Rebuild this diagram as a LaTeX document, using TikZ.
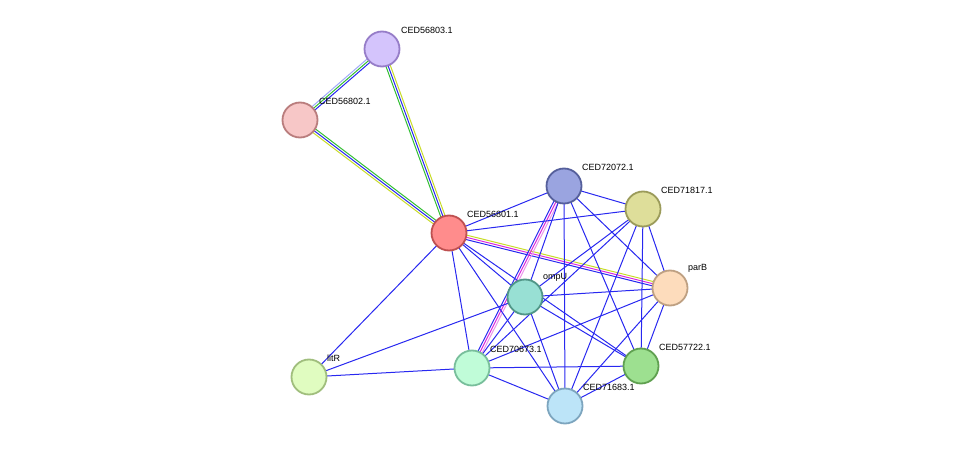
\documentclass[tikz,border=0pt]{standalone}
\usepackage{fontspec}
\setmainfont{Liberation Sans}
\usetikzlibrary{calc}
\begin{document}
\begin{tikzpicture}[x=1pt,y=-1pt,
  prot/.style={circle,minimum size=35pt,inner sep=0pt,line width=1.8pt},
  lab/.style={anchor=south west,font=\fontsize{9}{10}\selectfont,inner sep=1pt}]
\useasboundingbox (0,0) rectangle (975,452);
\definecolor{eblue}{RGB}{40,40,240}
\definecolor{egreen}{RGB}{50,190,50}
\definecolor{eyellow}{RGB}{200,220,40}
\definecolor{emag}{RGB}{220,40,220}
\definecolor{elight}{RGB}{160,170,250}
\definecolor{epink}{RGB}{235,150,235}
\coordinate (p803) at (382,49);
\coordinate (p802) at (300,120);
\coordinate (p801) at (449,233);
\coordinate (p072) at (564,186);
\coordinate (p817) at (643,209);
\coordinate (pparB) at (670,288);
\coordinate (pompU) at (525,297);
\coordinate (p673) at (472,368);
\coordinate (p722) at (641,366);
\coordinate (p683) at (565,406);
\coordinate (plitR) at (309,377);
\newcommand{\ml}[4]{\draw[color=#4,line width=1pt] ($(#1)!#3!90:(#2)$) -- ($(#2)!#3!-90:(#1)$);}
% multi edges
\ml{p803}{p802}{-2.2pt}{elight}\ml{p803}{p802}{0pt}{egreen}\ml{p803}{p802}{2.2pt}{eblue}
\ml{p803}{p801}{-2.2pt}{egreen}\ml{p803}{p801}{0pt}{eblue}\ml{p803}{p801}{2.2pt}{eyellow}
\ml{p802}{p801}{2.2pt}{egreen}\ml{p802}{p801}{0pt}{eblue}\ml{p802}{p801}{-2.2pt}{eyellow}
\ml{p801}{pparB}{-2.2pt}{eblue}\ml{p801}{pparB}{0pt}{emag}\ml{p801}{pparB}{2.2pt}{eyellow}
\ml{p072}{p673}{-2.2pt}{eblue}\ml{p072}{p673}{0pt}{emag}\ml{p072}{p673}{2.2pt}{epink}
% single edges
\foreach \a/\b in {p801/p072,p801/p817,p801/pompU,p801/p722,p801/p673,p801/p683,p801/plitR,
 p072/pompU,p072/p817,p072/pparB,p072/p722,p072/p683,
 p817/pompU,p817/p673,p817/pparB,p817/p722,p817/p683,
 pparB/pompU,pparB/p673,pparB/p722,pparB/p683,
 pompU/p722,pompU/p673,pompU/p683,pompU/plitR,
 p673/p722,p673/p683,p673/plitR,p722/p683}
 \draw[eblue,line width=1pt] (\a) -- (\b);
% nodes
\node[prot,fill={rgb,255:red,212;green,196;blue,252},draw={rgb,255:red,150;green,125;blue,200}] (n803) at (p803) {};
\node[prot,fill={rgb,255:red,247;green,199;blue,199},draw={rgb,255:red,185;green,125;blue,125}] (n802) at (p802) {};
\node[prot,fill={rgb,255:red,255;green,140;blue,140},draw={rgb,255:red,190;green,80;blue,80}] (n801) at (p801) {};
\node[prot,fill={rgb,255:red,154;green,164;blue,224},draw={rgb,255:red,85;green,95;blue,155}] (n072) at (p072) {};
\node[prot,fill={rgb,255:red,222;green,222;blue,154},draw={rgb,255:red,155;green,155;blue,90}] (n817) at (p817) {};
\node[prot,fill={rgb,255:red,253;green,220;blue,188},draw={rgb,255:red,190;green,160;blue,130}] (nparB) at (pparB) {};
\node[prot,fill={rgb,255:red,152;green,224;blue,212},draw={rgb,255:red,80;green,150;blue,135}] (nompU) at (pompU) {};
\node[prot,fill={rgb,255:red,192;green,252;blue,216},draw={rgb,255:red,120;green,190;blue,155}] (n673) at (p673) {};
\node[prot,fill={rgb,255:red,157;green,224;blue,144},draw={rgb,255:red,95;green,160;blue,80}] (n722) at (p722) {};
\node[prot,fill={rgb,255:red,188;green,228;blue,248},draw={rgb,255:red,125;green,165;blue,190}] (n683) at (p683) {};
\node[prot,fill={rgb,255:red,224;green,252;blue,192},draw={rgb,255:red,160;green,190;blue,125}] (nlitR) at (plitR) {};
% labels
\node[lab] (l803) at (400,35) {CED56803.1};
\node[lab] (l802) at (318,106) {CED56802.1};
\node[lab] (l801) at (466,219) {CED56801.1};
\node[lab] (l072) at (581,172) {CED72072.1};
\node[lab] (l817) at (660,195) {CED71817.1};
\node[lab] (lparB) at (687,274) {parB};
\node[lab] (lompU) at (542,283) {ompU};
\node[lab] (l673) at (489,354) {CED70673.1};
\node[lab] (l722) at (658,352) {CED57722.1};
\node[lab] (l683) at (582,392) {CED71683.1};
\node[lab] (llitR) at (326,363) {litR};
\end{tikzpicture}
\end{document}
